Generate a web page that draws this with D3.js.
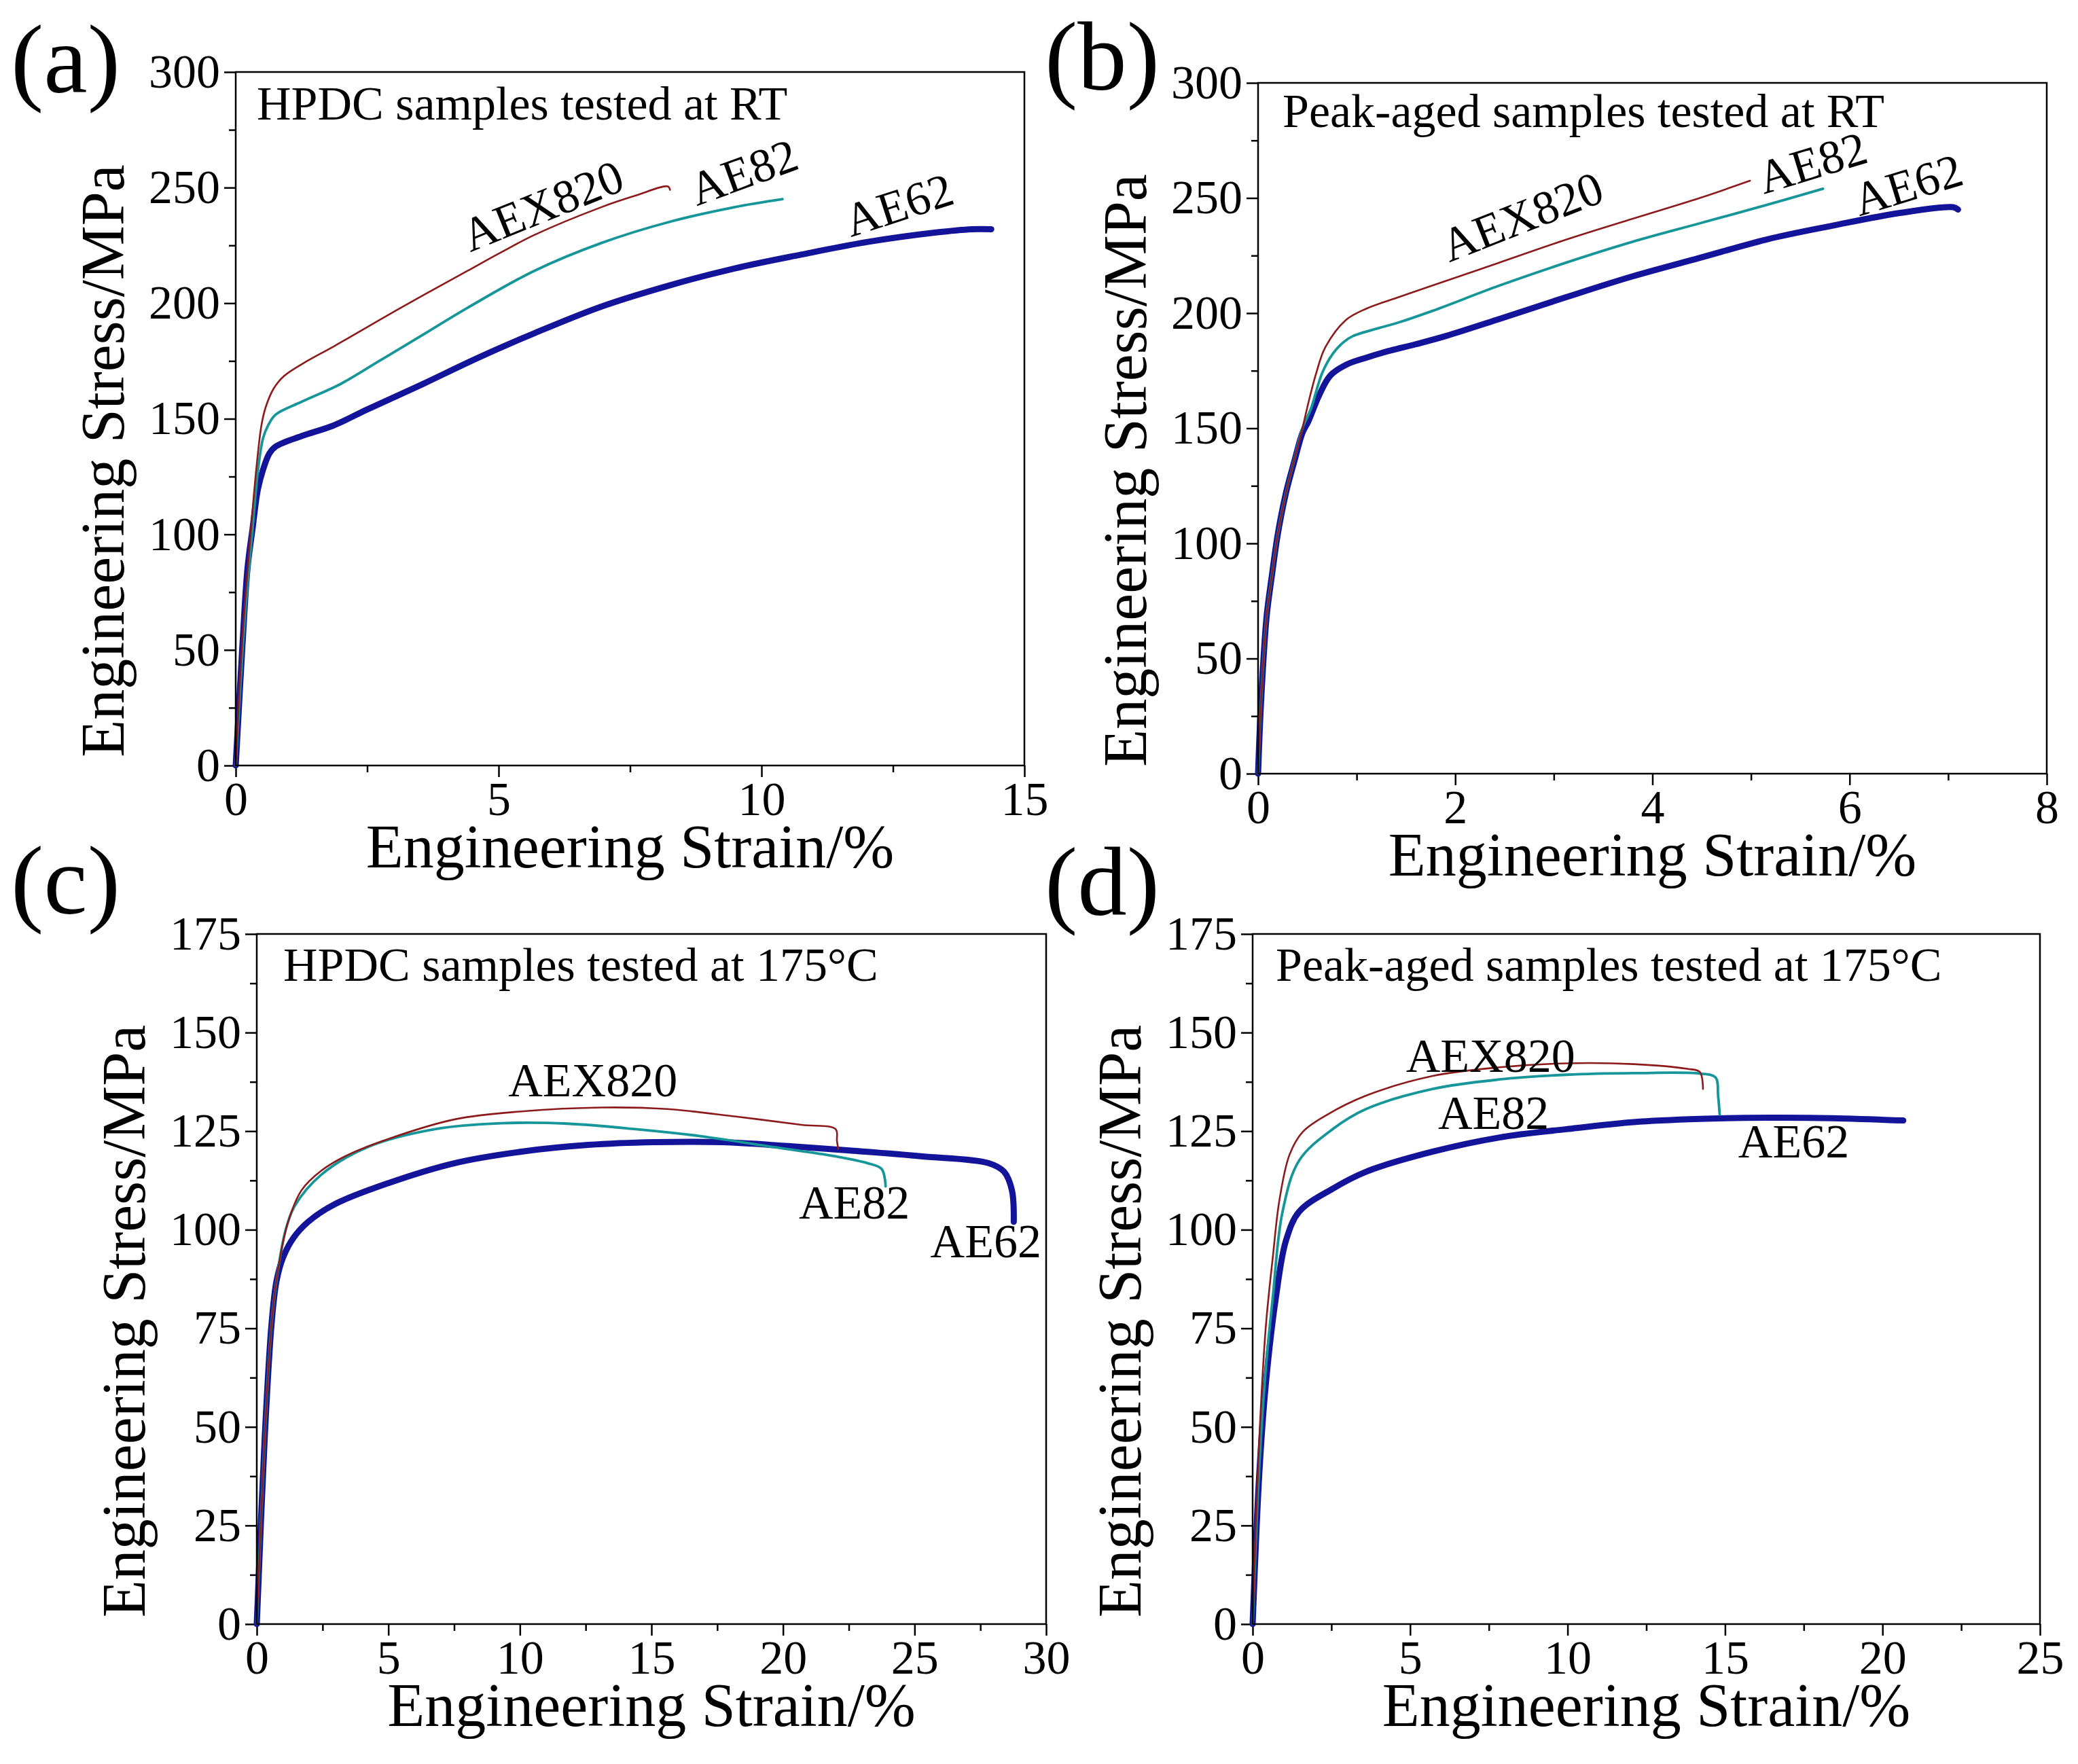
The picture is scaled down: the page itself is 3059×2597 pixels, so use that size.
<!DOCTYPE html>
<html>
<head>
<meta charset="utf-8">
<script src="https://cdn.jsdelivr.net/npm/d3@7"></script>
<style>
  body { margin: 0; background: #fff; }
  text { font-family: "Liberation Serif", "Times New Roman", serif; fill: #000; }
</style>
</head>
<body>
<div id="chart"></div>
<script>
// strain (%) / stress (MPa) pairs

// (a) HPDC, RT
var hpdcRT_AEX820 = [[0,0],[0.127,55],[0.27,96.6],[0.39,128],[0.49,147.3],[0.57,155],[0.72,163],[0.92,168.5],[1.36,175],[1.88,181.5],[3.14,198],[4.41,214],[5.05,222],[5.68,229.5],[6.95,241.5],[7.6,246.5],[8.22,250.5],[8.26,249]];
var hpdcRT_AE82 = [[0,0],[0.17,62.9],[0.32,102.4],[0.42,127],[0.52,141.6],[0.62,147.3],[0.76,151.8],[1.26,157.4],[1.99,165],[2.73,175],[3.5,185.5],[4.41,198],[5.68,214],[6.95,226],[8.22,235],[9.48,241.5],[10.4,245]];
var hpdcRT_AE62 = [[0,0],[0.127,51.7],[0.225,85.5],[0.32,102.4],[0.42,119.3],[0.52,128],[0.64,135],[0.76,138],[1.26,142.6],[1.85,147],[2.5,154],[3.49,164.3],[4.62,176.5],[5.68,187],[6.95,198.5],[8.22,207.5],[9.48,215],[10.75,221],[12.02,226.5],[13.29,230.5],[14.0,232],[14.37,232]];

// (b) peak-aged, RT
var agedRT_AEX820 = [[0,0],[0.03,31],[0.086,68],[0.14,86],[0.2,104],[0.283,122],[0.37,137],[0.45,150],[0.51,161],[0.59,174],[0.68,185],[0.89,197],[1.1,202],[1.43,207],[1.77,212],[2.45,222],[3.13,232],[3.8,241],[4.48,250],[4.99,257.5]];
var agedRT_AE82 = [[0,0],[0.03,31],[0.086,68],[0.14,86],[0.2,104],[0.283,122],[0.37,137],[0.45,150],[0.535,158.4],[0.65,174],[0.76,182.5],[0.87,187.5],[0.96,190],[1.43,196],[1.77,201],[2.45,212],[3.13,222],[3.8,231],[4.48,239],[5.16,247],[5.73,254]];
var agedRT_AE62 = [[0,0],[0.03,31],[0.086,68],[0.14,86],[0.2,104],[0.283,122],[0.37,136],[0.45,148],[0.51,153],[0.62,164.4],[0.733,172.9],[0.9,177.7],[1.1,180.7],[1.32,183.5],[1.6,186.5],[1.9,190],[2.45,197.5],[3.13,207],[3.8,216],[4.48,224],[5.16,232],[5.83,238],[6.51,243.5],[7.05,246],[7.1,245]];

// (c) HPDC, 175 C
var hpdcHT_AEX820 = [[0,0],[0.3,47],[0.56,76],[0.81,90],[1.19,102],[1.7,110],[2.46,115],[3.47,119],[4.99,123],[7.53,128],[10.06,130],[13.1,131],[15.6,130.6],[18.2,128.7],[20.7,126.6],[22.0,125.5],[22.05,122.5],[22.1,120.5]];
var hpdcHT_AE82 = [[0,0],[0.3,47],[0.56,76],[0.81,90],[1.1,100],[1.44,106],[2.46,114],[4.23,121],[6.77,125.5],[9.3,127],[11.8,126.9],[14.4,125.5],[16.9,123.7],[19.4,121.2],[22.0,118.6],[23.2,116.9],[23.75,115.4],[23.9,111]];
var hpdcHT_AE62 = [[0,0],[0.3,47],[0.56,76],[0.75,87],[1.0,93],[1.4,98],[1.95,102],[2.97,106.5],[4.99,111.8],[7.53,116.9],[10.06,119.8],[12.6,121.5],[15.1,122.2],[17.7,122.2],[20.2,121.2],[22.7,120],[25.3,118.6],[27.8,116.9],[28.4,114.7],[28.7,110],[28.77,102]];

// (d) peak-aged, 175 C
var agedHT_AEX820 = [[0,0],[0.21,46.7],[0.42,75.6],[0.64,93],[0.85,107.5],[1.17,119],[1.59,124.8],[2.33,129],[3.6,134],[5.72,139],[7.84,141.2],[9.96,142.2],[12.1,142],[13.8,140.8],[14.2,140],[14.3,135.7]];
var agedHT_AE82 = [[0,0],[0.21,40],[0.42,65],[0.64,82.9],[0.95,104.6],[1.48,117.6],[2.54,125.5],[3.6,130.6],[5.72,135.7],[7.84,138.1],[9.96,139.3],[12.1,139.7],[14.2,139.6],[14.7,138.6],[14.78,134],[14.83,129.2]];
var agedHT_AE62 = [[0,0],[0.21,38],[0.42,61],[0.74,82.9],[1.06,97.3],[1.48,104.6],[2.54,110.4],[3.6,114.7],[5.72,119.8],[7.84,123.4],[9.96,125.5],[12.1,127.3],[14.2,128.1],[16.3,128.4],[18.4,128.3],[20.66,127.7]];

// tick values
var xTicksA = [0, 5, 10, 15], xMinorA = [2.5, 7.5, 12.5];
var xTicksB = [0, 2, 4, 6, 8], xMinorB = [1, 3, 5, 7];
var xTicksC = [0, 5, 10, 15, 20, 25, 30], xMinorC = [2.5, 7.5, 12.5, 17.5, 22.5, 27.5];
var xTicksD = [0, 5, 10, 15, 20, 25], xMinorD = [2.5, 7.5, 12.5, 17.5, 22.5];
var yTicksRT = [0, 50, 100, 150, 200, 250, 300], yMinorRT = [25, 75, 125, 175, 225, 275];
var yTicksHT = [0, 25, 50, 75, 100, 125, 150, 175], yMinorHT = [12.5, 37.5, 62.5, 87.5, 112.5, 137.5, 162.5];

var seriesNames = ["AE62", "AE82", "AEX820"];
var colors = { AEX820: "#8c1a1a", AE82: "#17969a", AE62: "#14149a" };
var widths = { AEX820: 2.6, AE82: 3.8, AE62: 9 };

var panels = [
  { tag: "(a)", tagX: 16, tagY: 136, left: 347, top: 106, right: 1508, bottom: 1127,
    xDom: [0, 15], yDom: [0, 300], xTicks: xTicksA, xMinor: xMinorA, yTicks: yTicksRT, yMinor: yMinorRT,
    note: "HPDC samples tested at RT", noteDx: 31, noteDy: 70,
    data: { AEX820: hpdcRT_AEX820, AE82: hpdcRT_AE82, AE62: hpdcRT_AE62 },
    labels: [ { t: "AEX820", x: 4.46, y: 222, r: -22 }, { t: "AE82", x: 8.77, y: 242, r: -20 }, { t: "AE62", x: 11.7, y: 228.5, r: -18 } ] },
  { tag: "(b)", tagX: 1538, tagY: 132, left: 1852, top: 122, right: 3013, bottom: 1139,
    xDom: [0, 8], yDom: [0, 300], xTicks: xTicksB, xMinor: xMinorB, yTicks: yTicksRT, yMinor: yMinorRT,
    note: "Peak-aged samples tested at RT", noteDx: 36, noteDy: 65,
    data: { AEX820: agedRT_AEX820, AE82: agedRT_AE82, AE62: agedRT_AE62 },
    labels: [ { t: "AEX820", x: 1.94, y: 222, r: -21.5 }, { t: "AE82", x: 5.13, y: 251.6, r: -17 }, { t: "AE62", x: 6.1, y: 242, r: -17 } ] },
  { tag: "(c)", tagX: 16, tagY: 1345, left: 378, top: 1375, right: 1540, bottom: 2391,
    xDom: [0, 30], yDom: [0, 175], xTicks: xTicksC, xMinor: xMinorC, yTicks: yTicksHT, yMinor: yMinorHT,
    note: "HPDC samples tested at 175°C", noteDx: 39, noteDy: 69,
    data: { AEX820: hpdcHT_AEX820, AE82: hpdcHT_AE82, AE62: hpdcHT_AE62 },
    labels: [ { t: "AEX820", x: 9.56, y: 133.8, r: 0 }, { t: "AE82", x: 20.6, y: 102.8, r: 0 }, { t: "AE62", x: 25.6, y: 93, r: 0 } ] },
  { tag: "(d)", tagX: 1538, tagY: 1347, left: 1844, top: 1375, right: 3003, bottom: 2391,
    xDom: [0, 25], yDom: [0, 175], xTicks: xTicksD, xMinor: xMinorD, yTicks: yTicksHT, yMinor: yMinorHT,
    note: "Peak-aged samples tested at 175°C", noteDx: 34, noteDy: 69,
    data: { AEX820: agedHT_AEX820, AE82: agedHT_AE82, AE62: agedHT_AE62 },
    labels: [ { t: "AEX820", x: 4.87, y: 140, r: 0 }, { t: "AE82", x: 5.89, y: 125.6, r: 0 }, { t: "AE62", x: 15.42, y: 118.3, r: 0 } ] }
];

var svg = d3.select("#chart").append("svg")
  .attr("width", 3059)
  .attr("height", 2597);

svg.append("rect").attr("width", 3059).attr("height", 2597).attr("fill", "#fff");

panels.forEach(function(p) {
  var x = d3.scaleLinear().domain(p.xDom).range([p.left, p.right]);
  var y = d3.scaleLinear().domain(p.yDom).range([p.bottom, p.top]);
  var g = svg.append("g");

  // minor ticks (no labels)
  g.append("g").attr("class", "minor")
    .attr("transform", `translate(0, ${p.bottom})`)
    .call(d3.axisBottom(x).tickValues(p.xMinor).tickSize(10).tickFormat(""));
  g.append("g").attr("class", "minor")
    .attr("transform", `translate(${p.left}, 0)`)
    .call(d3.axisLeft(y).tickValues(p.yMinor).tickSize(10).tickFormat(""));
  g.selectAll(".minor text").remove();

  // major ticks + labels
  g.append("g").attr("class", "xaxis")
    .attr("transform", `translate(0, ${p.bottom})`)
    .call(d3.axisBottom(x).tickValues(p.xTicks).tickSize(17).tickPadding(6).tickFormat(d3.format("d")));
  g.append("g").attr("class", "yaxis")
    .attr("transform", `translate(${p.left}, 0)`)
    .call(d3.axisLeft(y).tickValues(p.yTicks).tickSize(17).tickPadding(6).tickFormat(d3.format("d")));

  g.selectAll(".domain").remove();
  g.selectAll(".tick line").attr("stroke", "#000").attr("stroke-width", 2.5);
  g.selectAll(".tick text")
    .style("font-family", "'Liberation Serif', 'Times New Roman', serif")
    .style("font-size", "70px")
    .attr("fill", "#000");

  // curves
  var line = d3.line()
    .x(d => x(d[0]))
    .y(d => y(d[1]))
    .curve(d3.curveCatmullRom.alpha(0.5));

  seriesNames.forEach(function(name) {
    g.append("path")
      .datum(p.data[name])
      .attr("d", line)
      .attr("fill", "none")
      .attr("stroke", colors[name])
      .attr("stroke-width", widths[name])
      .attr("stroke-linejoin", "round")
      .attr("stroke-linecap", "round");
  });

  // frame
  g.append("rect")
    .attr("x", p.left).attr("y", p.top)
    .attr("width", p.right - p.left).attr("height", p.bottom - p.top)
    .attr("fill", "none").attr("stroke", "#000").attr("stroke-width", 2.5);

  // curve labels
  p.labels.forEach(function(l) {
    g.append("text")
      .attr("transform", `translate(${x(l.x)}, ${y(l.y)}) rotate(${l.r})`)
      .style("font-size", "70px")
      .text(l.t);
  });

  // note
  g.append("text")
    .attr("x", p.left + p.noteDx)
    .attr("y", p.top + p.noteDy)
    .style("font-size", "70px")
    .text(p.note);

  // axis titles
  g.append("text")
    .attr("x", (p.left + p.right) / 2)
    .attr("y", p.bottom + 150)
    .attr("text-anchor", "middle")
    .style("font-size", "90px")
    .text("Engineering Strain/%");

  g.append("text")
    .attr("transform", `translate(${p.left - 165}, ${(p.top + p.bottom) / 2 + 62}) rotate(-90)`)
    .attr("text-anchor", "middle")
    .style("font-size", "90px")
    .text("Engineering Stress/MPa");

  // panel tag
  g.append("text")
    .attr("x", p.tagX)
    .attr("y", p.tagY)
    .style("font-size", "145px")
    .text(p.tag);
});
</script>
</body>
</html>
